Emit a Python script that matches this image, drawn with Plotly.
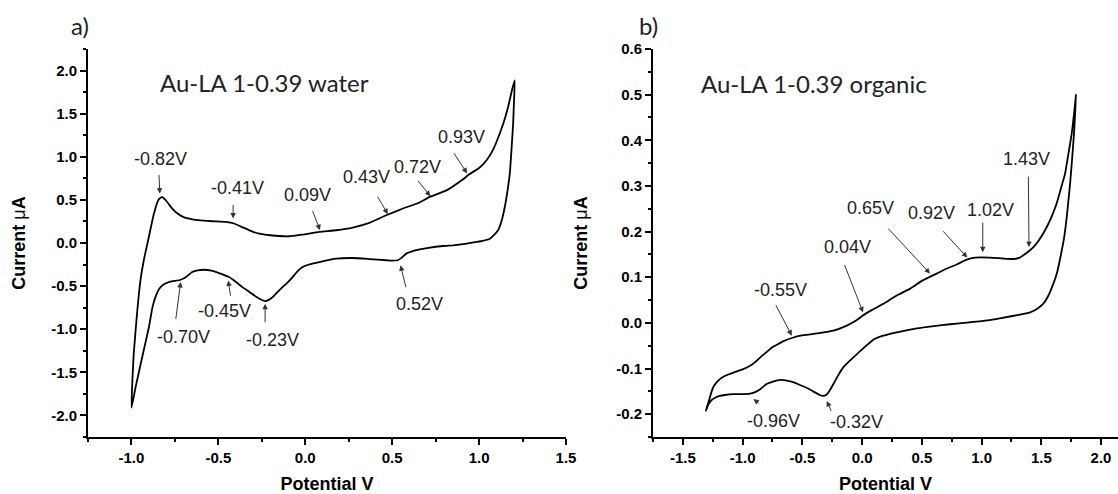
import plotly.graph_objects as go

# ---------------- data ----------------
# a) Au-LA 1-0.39 in water : closed CV loop (anodic branch then cathodic branch)
water_potential = [
    -1.000, -0.987, -0.968, -0.948, -0.929, -0.900, -0.871, -0.845, -0.825, -0.800,
    -0.770, -0.746, -0.700, -0.650, -0.600, -0.535, -0.458, -0.410, -0.370, -0.342,
    -0.300, -0.265, -0.200, -0.150, -0.092, -0.016, 0.081, 0.177, 0.273, 0.369,
    0.466, 0.562, 0.658, 0.716, 0.812, 0.908, 0.946, 1.000, 1.043, 1.080,
    1.119, 1.145, 1.167, 1.190, 1.205,
    1.200, 1.196, 1.187, 1.177, 1.163, 1.148, 1.130, 1.110, 1.085, 1.062,
    1.020, 0.985, 0.920, 0.850, 0.792, 0.700, 0.658, 0.610, 0.581, 0.555,
    0.533, 0.500, 0.466, 0.369, 0.273, 0.177, 0.081, 0.030, -0.016, -0.045,
    -0.073, -0.100, -0.131, -0.160, -0.188, -0.210, -0.231, -0.255, -0.285, -0.320,
    -0.362, -0.400, -0.439, -0.496, -0.540, -0.583, -0.620, -0.650, -0.690, -0.717,
    -0.750, -0.785, -0.815, -0.840, -0.862, -0.879, -0.900, -0.939, -0.977, -1.000,
]
water_current = [
    -1.91, -1.29, -0.82, -0.43, -0.20, 0.07, 0.34, 0.50, 0.535, 0.49,
    0.41, 0.36, 0.30, 0.275, 0.262, 0.252, 0.244, 0.226, 0.19, 0.167,
    0.13, 0.109, 0.090, 0.081, 0.078, 0.098, 0.128, 0.148, 0.179, 0.233,
    0.322, 0.400, 0.47, 0.535, 0.61, 0.74, 0.80, 0.87, 0.96, 1.08,
    1.27, 1.42, 1.58, 1.78, 1.89,
    1.60, 1.39, 1.10, 0.81, 0.60, 0.42, 0.26, 0.15, 0.09, 0.05,
    0.025, 0.012, -0.010, -0.027, -0.035, -0.060, -0.075, -0.100, -0.123, -0.170,
    -0.200, -0.205, -0.200, -0.186, -0.174, -0.182, -0.221, -0.245, -0.279, -0.330,
    -0.395, -0.455, -0.512, -0.570, -0.628, -0.660, -0.674, -0.655, -0.620, -0.570,
    -0.512, -0.450, -0.395, -0.349, -0.320, -0.310, -0.318, -0.337, -0.400, -0.426,
    -0.440, -0.453, -0.480, -0.530, -0.628, -0.744, -0.98, -1.33, -1.68, -1.91,
]

# b) Au-LA 1-0.39 in organic solvent
organic_potential = [
    -1.308, -1.286, -1.265, -1.244, -1.210, -1.175, -1.120, -1.077, -1.000, -0.937,
    -0.890, -0.854, -0.800, -0.742, -0.700, -0.658, -0.575, -0.491, -0.379, -0.240,
    -0.128, -0.050, 0.000, 0.080, 0.178, 0.290, 0.402, 0.500, 0.625, 0.700,
    0.792, 0.870, 0.946, 1.071, 1.180, 1.266, 1.320, 1.350, 1.400, 1.434,
    1.490, 1.546, 1.590, 1.629, 1.670, 1.699, 1.730, 1.755, 1.775, 1.791,
    1.782, 1.774, 1.758, 1.741, 1.713, 1.690, 1.657, 1.630, 1.601, 1.560,
    1.517, 1.460, 1.406, 1.300, 1.152, 1.000, 0.850, 0.736, 0.600, 0.458,
    0.300, 0.178, 0.100, 0.000, -0.050, -0.086, -0.130, -0.159, -0.200, -0.240,
    -0.275, -0.300, -0.330, -0.354, -0.410, -0.465, -0.520, -0.577, -0.640, -0.688,
    -0.740, -0.800, -0.850, -0.882, -0.937, -1.000, -1.079, -1.150, -1.190, -1.230,
    -1.259, -1.285, -1.308,
]
organic_current = [
    -0.193, -0.174, -0.155, -0.140, -0.128, -0.120, -0.113, -0.109, -0.102, -0.094,
    -0.085, -0.076, -0.064, -0.052, -0.046, -0.040, -0.032, -0.027, -0.023, -0.017,
    -0.006, 0.005, 0.015, 0.028, 0.042, 0.060, 0.075, 0.092, 0.108, 0.118,
    0.128, 0.138, 0.143, 0.143, 0.141, 0.140, 0.143, 0.148, 0.158, 0.166,
    0.185, 0.210, 0.235, 0.262, 0.300, 0.327, 0.375, 0.415, 0.460, 0.500,
    0.455, 0.415, 0.360, 0.305, 0.232, 0.185, 0.140, 0.108, 0.086, 0.060,
    0.042, 0.030, 0.023, 0.017, 0.010, 0.004, 0.000, -0.003, -0.007, -0.012,
    -0.020, -0.028, -0.036, -0.058, -0.070, -0.079, -0.090, -0.098, -0.115, -0.134,
    -0.150, -0.158, -0.160, -0.158, -0.150, -0.142, -0.136, -0.130, -0.126, -0.125,
    -0.128, -0.134, -0.145, -0.150, -0.155, -0.156, -0.156, -0.158, -0.160, -0.164,
    -0.169, -0.178, -0.193,
]

# tick labels
water_x_ticks = [-1.0, -0.5, 0.0, 0.5, 1.0, 1.5]
water_x_ticklabels = ["-1.0", "-0.5", "0.0", "0.5", "1.0", "1.5"]
water_y_ticks = [-2.0, -1.5, -1.0, -0.5, 0.0, 0.5, 1.0, 1.5, 2.0]
water_y_ticklabels = ["-2.0", "-1.5", "-1.0", "-0.5", "0.0", "0.5", "1.0", "1.5", "2.0"]
organic_x_ticks = [-1.5, -1.0, -0.5, 0.0, 0.5, 1.0, 1.5, 2.0]
organic_x_ticklabels = ["-1.5", "-1.0", "-0.5", "0.0", "0.5", "1.0", "1.5", "2.0"]
organic_y_ticks = [-0.2, -0.1, 0.0, 0.1, 0.2, 0.3, 0.4, 0.5, 0.6]
organic_y_ticklabels = ["-0.2", "-0.1", "0.0", "0.1", "0.2", "0.3", "0.4", "0.5", "0.6"]

# peak labels and the curve point each arrow points at
water_peak_labels = ["-0.82V", "-0.41V", "0.09V", "0.43V", "0.72V", "0.93V",
                     "-0.70V", "-0.45V", "-0.23V", "0.52V"]
water_peak_x = [-0.837, -0.415, 0.085, 0.475, 0.720, 0.931, -0.717, -0.443, -0.231, 0.548]
water_peak_y = [0.574, 0.284, 0.148, 0.334, 0.543, 0.807, -0.453, -0.434, -0.705, -0.259]

organic_peak_labels = ["-0.55V", "0.04V", "0.65V", "0.92V", "1.02V", "1.43V", "-0.96V", "-0.32V"]
organic_peak_x = [-0.588, 0.008, 0.569, 0.881, 1.010, 1.397, -0.910, -0.295]
organic_peak_y = [-0.028, 0.023, 0.108, 0.143, 0.155, 0.166, -0.167, -0.171]

# ---------------- figure ----------------
W, H = 1118, 494
ML, MR, MT, MB = 88, 0, 49, 57
PW = W - ML - MR

fig = go.Figure()
line_style = dict(color="black", width=1.8, shape="spline", smoothing=0.4)
fig.add_trace(go.Scatter(x=water_potential, y=water_current, mode="lines",
                         line=line_style, xaxis="x", yaxis="y",
                         showlegend=False, hoverinfo="skip"))
fig.add_trace(go.Scatter(x=organic_potential, y=organic_current, mode="lines",
                         line=line_style, xaxis="x2", yaxis="y2",
                         showlegend=False, hoverinfo="skip"))

tick_font = dict(family="Liberation Sans, Arial, sans-serif", size=15, color="black", weight="bold")
title_font = dict(family="Liberation Sans, Arial, sans-serif", size=18, color="black")


def axis_style(**kw):
    d = dict(showline=True, linecolor="black", linewidth=2, ticks="outside",
             ticklen=6, tickwidth=1.5, tickcolor="black", showgrid=False,
             zeroline=False, mirror=False, tickfont=tick_font, automargin=False,
             fixedrange=True)
    d.update(kw)
    return d


fig.update_layout(
    width=W, height=H,
    margin=dict(l=ML, r=MR, t=MT, b=MB, pad=0),
    paper_bgcolor="white", plot_bgcolor="white",
    xaxis=axis_style(domain=[0, (566 - ML) / PW], range=[-1.25, 1.5],
                     tickvals=water_x_ticks, ticktext=water_x_ticklabels,
                     minor=dict(dtick=0.25, tick0=0, ticks="outside", ticklen=3,
                                tickwidth=1.5, tickcolor="black"),
                     title=dict(text="<b>Potential V</b>", font=title_font, standoff=12),
                     anchor="y"),
    yaxis=axis_style(domain=[0, 1], range=[-2.25, 2.25],
                     tickvals=water_y_ticks, ticktext=water_y_ticklabels,
                     minor=dict(dtick=0.25, tick0=0, ticks="outside", ticklen=3,
                                tickwidth=1.5, tickcolor="black"),
                     title=dict(text="<b>Current </b>μ<b>A</b>", font=title_font, standoff=21),
                     anchor="x"),
    xaxis2=axis_style(domain=[(653 - ML) / PW, 1], range=[-1.75, 2.142],
                      tickvals=organic_x_ticks, ticktext=organic_x_ticklabels,
                      minor=dict(dtick=0.25, tick0=0, ticks="outside", ticklen=3,
                                 tickwidth=1.5, tickcolor="black"),
                      title=dict(text="<b>Potential V</b>", font=title_font, standoff=12),
                      anchor="y2"),
    yaxis2=axis_style(domain=[0, 1], range=[-0.25, 0.6],
                      tickvals=organic_y_ticks, ticktext=organic_y_ticklabels,
                      minor=dict(dtick=0.05, tick0=0, ticks="outside", ticklen=3,
                                 tickwidth=1.5, tickcolor="black"),
                      title=dict(text="<b>Current </b>μ<b>A</b>", font=title_font, standoff=24),
                      anchor="x2"),
)

label_font = dict(family="Liberation Sans, Arial, sans-serif", size=18, color="#222")
head_font = dict(family="Lato, Open Sans, sans-serif", size=24, color="#222")

annotations = []
# placement of each label: (tail_x, tail_y, text_x, text_y) in data units
water_place = [
    (-0.842, 0.807, -0.832, 0.973),
    (-0.415, 0.458, -0.391, 0.633),
    (0.039, 0.388, 0.013, 0.555),
    (0.411, 0.555, 0.350, 0.767),
    (0.642, 0.737, 0.648, 0.884),
    (0.850, 1.058, 0.898, 1.233),
    (-0.746, -0.899, -0.698, -1.093),
    (-0.429, -0.628, -0.467, -0.783),
    (-0.231, -0.937, -0.189, -1.123),
    (0.581, -0.530, 0.658, -0.705),
]
organic_place = [
    (-0.728, 0.042, -0.686, 0.071),
    (-0.151, 0.130, -0.121, 0.166),
    (0.207, 0.210, 0.073, 0.251),
    (0.667, 0.204, 0.583, 0.240),
    (1.010, 0.223, 1.071, 0.248),
    (1.392, 0.324, 1.378, 0.358),
    (-0.854, -0.178, -0.742, -0.215),
    (-0.254, -0.196, -0.047, -0.218),
]

for (xr, yr), labels, px, py, place in [
    (("x", "y"), water_peak_labels, water_peak_x, water_peak_y, water_place),
    (("x2", "y2"), organic_peak_labels, organic_peak_x, organic_peak_y, organic_place),
]:
    for lab, hx, hy, (tx, ty, lx, ly) in zip(labels, px, py, place):
        annotations.append(dict(x=hx, y=hy, xref=xr, yref=yr, ax=tx, ay=ty,
                                axref=xr, ayref=yr, text="", showarrow=True,
                                arrowhead=2, arrowsize=1.1, arrowwidth=1,
                                arrowcolor="#333", standoff=0, startstandoff=0))
        annotations.append(dict(x=lx, y=ly, xref=xr, yref=yr, text=lab,
                                showarrow=False, font=label_font,
                                xanchor="center", yanchor="middle"))

annotations += [
    dict(x=-0.232, y=1.867, xref="x", yref="y", text="Au-LA 1-0.39 water",
         showarrow=False, font=head_font, xanchor="center", yanchor="middle"),
    dict(x=-0.399, y=0.5255, xref="x2", yref="y2", text="Au-LA 1-0.39 organic",
         showarrow=False, font=head_font, xanchor="center", yanchor="middle"),
    dict(x=(79.5 - ML) / PW, y=(H - MB - 25.8) / (H - MT - MB), xref="paper", yref="paper",
         text="a)", showarrow=False, font=head_font, xanchor="center", yanchor="middle"),
    dict(x=(648.4 - ML) / PW, y=(H - MB - 25.8) / (H - MT - MB), xref="paper", yref="paper",
         text="b)", showarrow=False, font=head_font, xanchor="center", yanchor="middle"),
]
fig.update_layout(annotations=annotations)

fig.write_html("out.html", config={"displayModeBar": False},
               post_script="document.body.style.margin='0';document.body.style.overflow='hidden';")
